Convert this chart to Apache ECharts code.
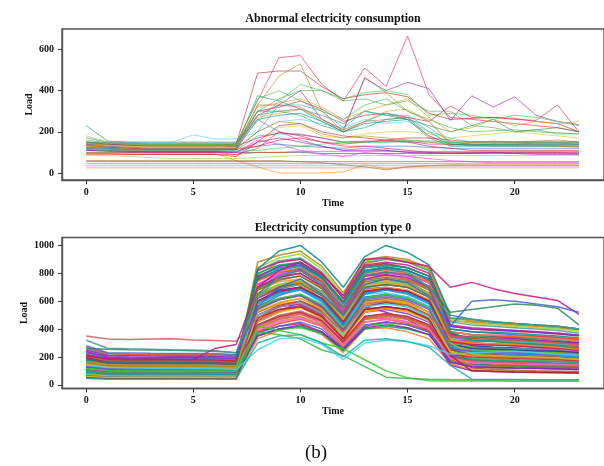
<!DOCTYPE html>
<html><head><meta charset="utf-8">
<script src="https://cdn.jsdelivr.net/npm/echarts@6/dist/echarts.min.js"></script>
<style>html,body{margin:0;padding:0;background:#fff}#c{width:604px;height:466px}</style>
</head><body><div id="c"></div>
<script>
// ---------- data ----------
const hours = [0,1,2,3,4,5,6,7,8,9,10,11,12,13,14,15,16,17,18,19,20,21,22,23];
const xTicks = [0,5,10,15,20];
const yTicksTop = [0,200,400,600];
const yTicksBottom = [0,200,400,600,800,1000];
const titleTop = 'Abnormal electricity consumption';
const titleBottom = 'Electricity consumption type 0';
const caption = '(b)';

// abnormal users, load per hour
const abnormalLoads = [
[150,148,146,145,145,145,145,145,350,560,570,430,350,510,420,665,380,270,260,250,240,230,220,200],
[140,138,135,135,135,135,135,140,485,495,495,420,360,380,390,370,290,260,265,270,265,250,240,200],
[130,125,120,120,120,120,120,125,330,470,530,300,200,465,390,300,250,140,135,130,130,130,130,125],
[120,115,110,110,110,110,110,115,280,330,400,260,210,460,400,440,410,255,375,320,370,280,250,235],
[140,135,130,130,130,130,130,135,300,320,350,310,250,280,290,270,250,325,270,270,260,255,330,200],
[145,140,135,130,130,130,130,130,375,350,310,250,200,250,290,260,180,140,140,140,140,140,140,140],
[135,130,125,125,125,125,125,130,270,290,310,260,200,250,300,310,250,150,150,150,150,150,150,150],
[145,140,140,135,135,135,135,140,250,350,430,400,360,390,400,380,280,290,280,260,280,270,250,230],
[160,145,140,138,138,138,138,140,300,360,400,400,350,360,330,350,300,300,230,220,200,210,190,190],
[170,150,145,140,140,140,140,140,280,300,310,280,240,300,280,260,230,200,230,260,200,210,220,200],
[230,155,150,150,150,150,150,150,260,280,290,250,200,240,250,260,170,130,130,130,130,130,130,130],
[150,150,150,150,150,185,165,165,200,250,260,240,220,260,240,250,200,170,150,150,150,150,150,150],
[125,120,115,115,115,115,115,115,200,330,330,300,220,300,280,280,220,150,140,140,140,140,140,140],
[120,115,115,115,115,115,115,120,330,330,320,260,210,250,260,270,180,135,150,155,150,155,160,150],
[115,110,105,105,105,105,105,110,180,190,190,170,150,150,150,150,150,150,140,140,140,140,140,140],
[150,140,135,130,130,130,130,130,170,195,185,170,150,155,155,155,140,140,135,135,135,135,135,135],
[110,108,105,105,105,105,105,105,130,140,130,125,120,130,130,130,125,120,120,120,120,120,120,120],
[100,100,100,100,100,100,100,100,100,100,100,95,95,95,95,95,95,95,95,95,95,95,95,95],
[90,90,90,90,90,90,90,90,100,100,105,105,105,105,105,105,105,105,105,105,105,105,105,105],
[125,120,110,100,100,100,100,100,160,140,110,90,80,100,90,80,70,60,55,50,50,50,50,50],
[100,98,95,95,95,95,95,60,30,0,0,0,5,40,20,30,35,40,40,40,40,40,40,40],
[140,135,130,130,130,130,130,120,140,220,230,180,170,190,200,200,190,170,180,190,200,190,180,170],
[60,60,60,60,60,60,60,60,60,60,55,50,40,30,15,30,35,35,35,35,35,35,35,35],
[45,45,45,45,45,45,45,45,45,45,45,45,45,45,45,45,45,45,45,45,45,45,45,45],
[25,25,25,25,25,25,25,25,25,25,25,25,25,25,25,25,25,25,25,25,25,25,25,25],
[35,35,35,35,35,35,35,35,35,35,35,35,35,35,35,35,35,35,35,35,35,35,35,35],
[55,55,55,55,55,55,55,55,55,55,55,55,55,55,55,55,55,55,55,55,55,55,55,55],
[85,85,80,75,70,70,70,70,75,80,85,85,85,85,85,85,85,85,85,85,85,85,85,85],
[140,130,125,120,120,120,120,115,260,200,160,130,110,120,110,100,95,95,100,100,100,100,100,95],
[110,105,100,100,100,100,100,90,120,200,180,150,130,130,120,110,100,100,100,100,100,100,100,100],
[95,95,90,90,90,90,90,80,150,230,240,200,180,170,160,150,130,120,110,110,110,110,110,110],
[130,125,120,120,120,120,120,120,200,250,240,190,170,180,170,160,150,135,135,135,135,135,130,130],
[110,108,105,105,105,105,105,100,150,170,150,130,110,110,110,100,100,95,95,100,95,90,90,90],
[135,125,120,115,115,115,115,115,130,160,170,150,140,150,160,170,170,160,150,150,150,150,150,150],
[120,120,115,115,115,115,115,115,300,300,280,230,200,220,260,270,200,140,135,140,140,145,145,140],
[180,150,140,140,140,140,140,140,320,340,360,320,260,300,330,360,270,200,220,260,230,250,240,250],
[115,110,110,110,110,110,110,105,110,120,130,140,150,150,150,160,155,150,150,150,150,150,150,150],
[150,145,140,140,140,140,140,135,360,400,350,300,260,330,360,300,260,220,200,205,210,200,195,190]
];

// type-0 users, load per hour
const type0Loads = [
[75,62,60,61,60,59,60,58,330,390,420,360,230,400,410,380,330,150,110,100,95,92,90,88],
[90,72,70,70,69,70,71,68,400,470,505,440,280,470,480,455,400,180,140,130,125,122,118,115],
[110,88,85,84,86,85,84,82,460,530,560,480,330,520,540,510,450,210,170,160,155,150,146,140],
[130,104,100,98,99,100,101,97,540,610,640,560,380,600,610,590,520,250,220,210,205,200,195,185],
[150,124,120,118,119,118,120,115,620,690,720,640,450,690,700,670,600,300,280,270,265,255,250,235],
[175,145,140,138,140,139,138,132,700,780,800,700,520,780,790,760,690,360,340,330,320,315,305,290],
[200,165,160,158,160,158,157,150,770,850,880,770,600,850,870,840,780,420,400,390,385,375,365,350],
[220,186,182,180,181,180,178,172,790,880,905,800,640,870,900,880,820,460,450,440,430,420,410,395],
[65,55,54,55,56,55,54,53,450,520,600,540,320,560,520,470,380,140,100,95,90,88,86,85],
[240,200,196,195,193,192,190,185,380,420,440,380,260,420,450,430,380,260,240,235,230,225,220,210],
[95,80,78,77,78,79,78,76,780,840,860,760,560,820,850,820,760,380,300,290,280,270,260,250],
[145,120,118,116,117,115,116,112,520,580,600,520,350,570,600,580,500,160,130,120,118,115,112,110],
[55,48,47,48,47,46,47,46,360,400,410,370,240,420,440,410,360,200,190,185,180,175,170,165],
[200,170,168,167,166,165,165,160,480,560,590,510,400,560,590,560,480,280,310,320,330,320,305,300],
[125,110,108,107,108,107,106,104,690,760,780,690,500,740,760,740,660,340,350,345,340,330,320,300],
[180,150,148,147,148,146,145,140,560,640,690,600,420,630,650,630,560,380,360,350,345,340,330,310],
[80,68,66,66,67,66,65,64,600,660,680,590,410,650,660,630,560,250,190,180,175,170,165,160],
[260,215,212,210,211,210,208,205,650,700,720,640,480,700,720,700,640,330,300,290,285,280,270,260],
[110,95,92,91,92,91,90,88,430,500,530,470,300,480,500,480,420,170,150,140,138,135,132,130],
[160,135,132,131,130,130,129,126,820,890,910,810,620,880,900,880,820,450,430,420,410,400,390,370],
[70,62,60,61,60,60,59,58,500,560,580,500,330,540,560,540,470,230,210,205,200,195,190,185],
[135,115,112,111,112,110,110,108,760,820,850,750,560,810,840,820,750,400,380,370,360,350,340,320],
[190,160,158,157,156,155,155,150,600,680,700,620,450,670,690,670,600,310,280,270,265,255,250,240],
[85,72,70,70,71,70,69,68,380,440,470,420,270,450,470,440,390,190,160,150,145,140,138,135],
[215,180,178,176,175,174,173,168,720,800,830,740,560,790,810,790,730,380,360,355,350,345,335,320],
[100,85,83,82,83,82,82,80,640,700,720,620,440,680,700,680,610,280,250,240,235,230,225,215],
[170,145,142,140,141,140,139,136,450,520,550,480,320,520,550,520,460,220,200,195,190,185,180,175],
[60,52,50,51,50,50,50,49,550,610,640,560,380,600,620,600,520,230,120,110,105,100,98,95],
[230,195,192,190,190,188,188,182,580,650,680,600,440,650,680,650,580,300,290,285,280,275,265,250],
[120,102,100,99,100,99,98,96,700,770,800,700,510,760,780,760,690,330,270,260,250,240,230,220],
[150,128,126,125,126,125,124,120,400,460,480,420,290,470,490,470,410,200,240,250,260,255,250,240],
[75,64,62,62,63,62,61,60,470,540,570,490,330,540,560,540,470,210,180,170,165,160,155,150],
[205,172,170,168,169,168,167,162,840,910,940,830,640,890,910,890,830,470,440,430,420,410,400,385],
[95,82,80,79,80,79,79,77,560,620,650,570,400,620,640,620,550,260,230,225,220,215,210,200],
[140,120,118,117,118,117,116,113,620,700,740,650,470,700,720,700,630,310,300,295,290,285,275,260],
[185,158,155,154,155,154,153,148,500,570,600,530,370,560,590,570,500,250,220,215,210,205,200,190],
[65,56,55,55,56,55,54,53,410,470,490,430,280,470,490,470,410,180,140,135,130,128,125,120],
[250,210,208,206,205,205,204,198,700,770,800,710,530,760,790,770,700,360,340,335,330,320,310,300],
[115,98,96,95,96,95,95,93,750,810,830,740,550,800,830,800,740,370,320,310,300,295,285,275],
[165,140,138,137,138,137,136,132,350,400,420,370,250,400,420,400,360,200,180,175,170,168,165,160],
[90,78,76,75,76,75,75,73,680,740,760,670,480,730,750,730,660,300,260,250,245,240,235,225],
[210,178,175,174,175,174,173,168,560,620,650,580,410,620,650,620,550,270,250,245,240,235,228,215],
[130,112,110,109,110,109,108,105,430,490,520,460,310,490,510,490,430,220,190,185,180,175,170,165],
[55,48,47,47,48,47,47,46,640,700,730,640,460,700,720,700,630,280,150,140,135,130,128,125],
[175,150,148,147,148,147,146,142,760,830,860,770,580,820,840,820,760,400,380,375,370,360,350,335],
[105,90,88,87,88,87,87,85,500,560,590,520,360,560,580,560,490,230,200,195,190,185,180,170],
[225,190,188,186,187,186,185,180,650,720,750,670,490,720,740,720,650,340,320,315,310,300,290,280],
[80,70,68,68,69,68,68,66,420,480,510,450,300,480,500,480,420,200,170,165,160,155,150,145],
[155,132,130,129,130,129,128,124,590,660,690,610,440,660,680,660,590,290,270,265,260,255,245,235],
[195,165,162,161,162,161,160,155,820,880,900,800,620,860,880,860,800,430,410,400,390,380,370,355],
[70,60,59,59,60,59,59,57,370,420,450,400,260,430,450,430,380,170,130,125,120,118,115,110],
[125,107,105,104,105,104,103,100,600,670,700,620,430,670,690,670,600,290,260,255,250,245,240,230],
[270,225,220,218,217,216,215,210,520,590,620,550,390,590,610,590,520,290,330,340,350,345,340,330],
[100,86,84,83,84,83,83,81,720,790,820,720,530,780,800,780,710,350,300,290,280,270,260,250],
[145,124,122,121,122,121,120,116,470,530,560,490,340,530,550,530,470,230,210,205,200,195,190,180],
[60,52,51,51,52,51,51,50,530,590,620,540,370,590,610,590,520,240,200,195,190,185,180,175],
[205,175,172,170,171,170,169,164,680,750,780,690,510,750,770,750,680,350,330,325,320,310,300,290],
[90,78,76,76,77,76,75,74,600,660,690,610,430,660,680,660,590,280,230,225,220,215,210,200],
[170,145,143,142,143,142,141,137,740,810,840,750,560,800,820,800,740,380,360,355,350,340,330,315],
[115,99,97,96,97,96,96,94,390,450,480,420,280,450,470,450,400,190,160,155,150,148,145,140],
[235,200,197,195,196,195,194,188,780,850,870,780,590,840,860,840,780,420,400,395,390,380,370,355],
[75,65,63,63,64,63,63,61,660,720,750,660,470,720,740,720,650,300,220,210,205,200,195,185],
[135,116,114,113,114,113,112,109,540,610,640,560,390,610,630,610,540,260,240,235,230,225,220,210],
[185,158,156,155,156,155,154,150,430,490,520,460,310,490,510,490,430,220,200,195,190,185,180,170],
[50,44,43,43,44,43,43,42,480,540,560,490,330,540,560,540,470,210,100,95,92,90,88,85],
[160,137,135,134,135,134,133,129,880,930,960,850,660,900,920,900,840,480,460,450,440,430,420,400],
[105,90,88,88,89,88,87,85,350,400,430,380,250,410,430,410,360,160,130,125,120,118,115,110],
[215,183,180,179,180,179,178,173,600,670,700,620,450,670,690,670,600,310,290,285,280,270,260,250],
[95,82,80,80,81,80,79,77,800,860,880,780,590,840,860,840,780,380,320,310,300,290,280,265],
[150,128,126,125,126,125,124,121,640,710,740,650,470,710,730,710,640,320,300,295,290,280,270,255],
[120,105,103,102,103,102,101,99,420,390,360,300,260,180,100,50,30,28,27,27,26,26,26,26],
[100,88,86,85,86,85,84,82,380,360,330,250,210,130,55,45,40,38,37,36,36,35,35,35],
[260,255,252,250,248,245,240,230,650,780,820,720,550,780,810,790,700,520,540,560,580,570,550,430],
[180,160,158,157,158,157,156,150,830,960,1000,880,700,920,1000,950,860,500,470,450,440,430,420,400],
[140,125,120,118,118,117,116,110,250,330,340,290,180,300,320,310,280,220,230,235,240,230,220,210],
[45,40,40,40,40,40,40,40,300,350,360,300,200,320,330,310,270,140,40,38,38,37,37,36],
[350,328,325,328,330,322,318,312,480,560,600,520,380,580,600,570,500,350,340,330,320,310,300,290],
[320,262,258,255,252,250,245,230,620,780,840,720,560,800,830,810,700,480,470,455,440,430,420,400],
[205,190,185,185,183,182,260,290,700,820,880,790,640,900,910,880,850,700,735,690,655,630,605,505],
[280,230,228,226,225,225,225,215,560,700,760,650,500,720,760,730,640,420,600,610,600,580,560,520]
];

// ---------- style ----------
const palette = ['#e6194b','#3cb44b','#4363d8','#f58231','#911eb4','#42d4f4','#f032e6','#9acd32','#d4a017',
  '#469990','#9a6324','#b22222','#2e8b57','#1f3a93','#ff69b4','#dc143c','#20b2aa','#ff8c00','#6a5acd',
  '#32cd32','#c71585','#1e90ff','#b8860b','#008b8b','#ff4500','#8a2be2','#00a86b','#cd5c5c','#e0c020'];
const FONT = '"Liberation Serif","Times New Roman",serif';

function mkSeries(rows, gi, width, opacity, offset) {
  return rows.map((row, k) => ({
    type: 'line', xAxisIndex: gi, yAxisIndex: gi,
    data: hours.map((h, i) => [h, row[i]]),
    symbol: 'none', showSymbol: false, silent: true, animation: false,
    lineStyle: { width: width, opacity: opacity, color: palette[(k * 11 + offset) % palette.length] }
  }));
}

function xAx(gi) {
  return {
    gridIndex: gi, type: 'value', min: -1.13, max: 24.17,
    name: 'Time', nameLocation: 'middle', nameGap: 18, nameMoveOverlap: false,
    nameTextStyle: { fontFamily: FONT, fontWeight: 'bold', fontSize: 10, color: '#111' },
    axisLine: { show: true, onZero: false, lineStyle: { color: '#555', width: 1.4 } },
    axisTick: { show: true, length: 4, lineStyle: { color: '#333' }, customValues: xTicks },
    axisLabel: { fontFamily: FONT, fontWeight: 'bold', fontSize: 10, color: '#111', margin: 7, customValues: xTicks },
    splitLine: { show: false }
  };
}
function yAx(gi, min, max, ticks, gap) {
  return {
    gridIndex: gi, type: 'value', min: min, max: max,
    name: 'Load', nameLocation: 'middle', nameGap: gap, nameMoveOverlap: false,
    nameTextStyle: { fontFamily: FONT, fontWeight: 'bold', fontSize: 10, color: '#111' },
    axisLine: { show: true, onZero: false, lineStyle: { color: '#555', width: 1.4 } },
    axisTick: { show: true, length: 4, lineStyle: { color: '#333' }, customValues: ticks },
    axisLabel: { fontFamily: FONT, fontWeight: 'bold', fontSize: 10, color: '#111', margin: 8, customValues: ticks,
      formatter: v => String(v) },
    splitLine: { show: false }
  };
}

const chart = echarts.init(document.getElementById('c'), null, { renderer: 'canvas' });
chart.setOption({
  backgroundColor: '#fff',
  animation: false,
  title: [
    { text: titleTop, left: 333, top: 13, textAlign: 'center', padding: 0,
      textStyle: { fontFamily: FONT, fontWeight: 'bold', fontSize: 12, color: '#111' } },
    { text: titleBottom, left: 333, top: 222, textAlign: 'center', padding: 0,
      textStyle: { fontFamily: FONT, fontWeight: 'bold', fontSize: 12, color: '#111' } },
    { text: caption, left: 316, top: 444, textAlign: 'center', padding: 0,
      textStyle: { fontFamily: FONT, fontWeight: 'normal', fontSize: 19, color: '#111' } }
  ],
  grid: [
    { left: 62, top: 29, right: -2, height: 151, show: true, borderColor: '#555', borderWidth: 1.4, backgroundColor: 'transparent' },
    { left: 62, top: 237.5, right: -2, height: 151, show: true, borderColor: '#555', borderWidth: 1.4, backgroundColor: 'transparent' }
  ],
  xAxis: [xAx(0), xAx(1)],
  yAxis: [yAx(0, -34, 699, yTicksTop, 28), yAx(1, -26.5, 1057, yTicksBottom, 33)],
  series: mkSeries(abnormalLoads, 0, 0.8, 0.75, 0).concat(mkSeries(type0Loads, 1, 1.5, 0.85, 3))
});
</script>
</body></html>
